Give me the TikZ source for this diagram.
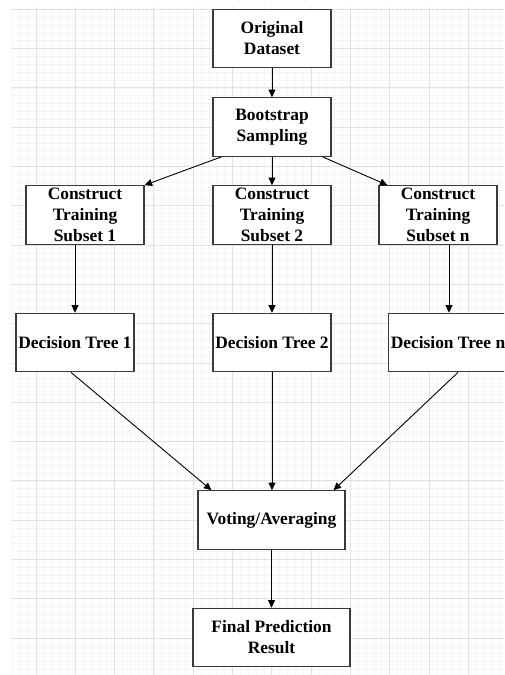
\documentclass[tikz,border=0pt]{standalone}
\usepackage{fontspec}
\setmainfont{Liberation Serif}
\usetikzlibrary{arrows.meta}
\definecolor{gridminor}{HTML}{F5F5F5}
\definecolor{gridmajor}{HTML}{E2E2E2}
\definecolor{boxline}{HTML}{3A3A3A}
\tikzset{
  box/.style={draw=boxline, line width=1.2pt, fill=white, inner sep=2pt,
    align=center, font=\fontsize{17.4}{21}\selectfont\bfseries,
    minimum width=118pt, minimum height=58.5pt},
  conn/.style={draw=black, line width=0.9pt, -{Triangle[length=7.5pt,width=7pt]}}
}
\begin{document}
\begin{tikzpicture}[x=1pt,y=-1pt]
\useasboundingbox (0,0) rectangle (504,675);
\clip (0,0) rectangle (504,675);
\fill[white] (0,0) rectangle (504,675);
% grid
\foreach \k in {0,...,62} {\draw[gridminor, line width=0.7pt] (12.42+\k*7.86,7) -- (12.42+\k*7.86,675);}
\foreach \k in {0,...,84} {\draw[gridminor, line width=0.7pt] (11,9.3+\k*7.86) -- (504,9.3+\k*7.86);}
\foreach \k in {0,...,11} {\draw[gridmajor, line width=0.9pt] (36+\k*39.3,7) -- (36+\k*39.3,675);}
\foreach \k in {0,...,16} {\draw[gridmajor, line width=0.9pt] (11,9.3+\k*39.3) -- (504,9.3+\k*39.3);}
% nodes
\node[box] (orig) at (272,38.5) {Original\\Dataset};
\node[box] (boot) at (272,127) {Bootstrap\\Sampling};
\node[box] (c1) at (85,215) {Construct\\Training\\Subset 1};
\node[box] (c2) at (272,215) {Construct\\Training\\Subset 2};
\node[box] (cn) at (438,215) {Construct\\Training\\Subset n};
\node[box] (d1) at (75,342.5) {Decision Tree 1};
\node[box] (d2) at (272,342.5) {Decision Tree 2};
\node[box] (dn) at (448,342.5) {Decision Tree n};
\node[box, minimum width=147pt] (vote) at (271.5,520) {Voting/Averaging};
\node[box, minimum width=157pt] (final) at (271.5,637.5) {Final Prediction\\Result};
% connectors
\draw[conn] (orig) -- (boot);
\draw[conn] ([xshift=9pt]boot.south west) -- (c1.north east);
\draw[conn] (boot) -- (c2);
\draw[conn] ([xshift=-9pt]boot.south east) -- ([xshift=9pt]cn.north west);
\draw[conn] (c1.south -| d1) -- (d1);
\draw[conn] (c2) -- (d2);
\draw[conn] ([xshift=11pt]cn.south) -- ([xshift=1pt]dn.north);
\draw[conn] ([xshift=-4pt]d1.south) -- ([xshift=14pt]vote.north west);
\draw[conn] (d2) -- (vote.north -| d2);
\draw[conn] ([xshift=10pt]dn.south) -- ([xshift=-12pt]vote.north east);
\draw[conn] (vote) -- (final);
\end{tikzpicture}
\end{document}
